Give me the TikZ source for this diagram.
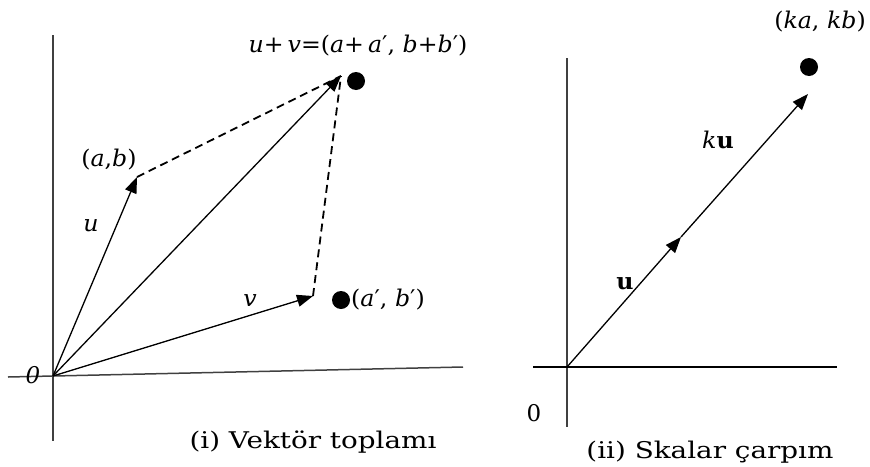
\documentclass[tikz,border=0pt]{standalone}
\usepackage{fontspec}
\usepackage{graphicx}
\setmainfont{DejaVu Serif}
\usetikzlibrary{arrows.meta}
\newcommand{\widelbl}[1]{\scalebox{1.03}[1]{#1}}
\newcommand{\widecap}[1]{\scalebox{1.21}[1]{#1}}
\tikzset{
  axis/.style={line width=1.5pt, black!75},
  vec/.style={line width=1.3pt, -{Triangle[length=16pt,width=12pt]}},
  dashline/.style={line width=1.8pt, dash pattern=on 8pt off 5pt},
  dot/.style={circle, fill=black, inner sep=0pt, minimum size=18pt},
  lbl/.style={inner sep=0pt, font=\fontsize{23}{27}\selectfont},
  captxt/.style={inner sep=0pt, font=\fontsize{23}{27}\selectfont},
}
\begin{document}
\begin{tikzpicture}[x=1pt,y=-1pt]
\useasboundingbox (0,0) rectangle (870,466);
% ---- left diagram ----
\coordinate (Y1a) at (53,35);
\coordinate (Y1b) at (53,441);
\coordinate (X1a) at (8,377);
\coordinate (X1b) at (463,367);
\coordinate (O) at (53,376);
\coordinate (A) at (137,177);
\coordinate (S) at (341,76);
\coordinate (V) at (313,296);
\draw[axis] (Y1a) -- (Y1b);
\draw[axis] (X1a) -- (X1b);
\draw[dashline] (A) -- (S);
\draw[dashline] (V) -- (S);
\draw[vec] (O) -- (A);
\draw[vec] (O) -- (S);
\draw[vec] (O) -- (V);
\node[dot] (dS) at (356,81) {};
\node[dot] (dV) at (341,300) {};
\node[lbl] (lS) at (358,46) {\widelbl{\textit{u}+\,\textit{v}=(\textit{a}+\,\textit{a}′, \textit{b}+\textit{b}′)}};
\node[lbl] (lA) at (109,160) {\widelbl{(\textit{a},\textit{b})}};
\node[lbl] (lu) at (91,226) {\widelbl{\textit{u}}};
\node[lbl] (lv) at (250,301) {\widelbl{\textit{v}}};
\node[lbl, anchor=west] (lV) at (351,300) {\widelbl{(\textit{a}′, \textit{b}′)}};
\node[lbl] (l0) at (33,375) {\textit{0}};
\node[captxt] (c1) at (313,442) {\widecap{(i) Vektör toplamı}};
% ---- right diagram ----
\coordinate (Y2a) at (567,58);
\coordinate (Y2b) at (567,427);
\coordinate (X2a) at (533,367);
\coordinate (X2b) at (837,367);
\coordinate (O2) at (567,367);
\coordinate (M) at (681,237);
\coordinate (T) at (808,94);
\draw[axis] (Y2a) -- (Y2b);
\draw[axis, black] (X2a) -- (X2b);
\draw[vec] (O2) -- (M);
\draw[vec] (M) -- (T);
\node[dot] (dT) at (809,67) {};
\node[lbl, anchor=east] (lT) at (866,22) {\widelbl{(\textit{ka}, \textit{kb})}};
\node[lbl] (lku) at (718,140) {\widelbl{\textit{k}\textbf{u}}};
\node[lbl] (lu2) at (625,284) {\widelbl{\textbf{u}}};
\node[lbl] (l02) at (534,413) {0};
\node[captxt] (c2) at (710,452) {\widecap{(ii) Skalar çarpım}};
\end{tikzpicture}
\end{document}
